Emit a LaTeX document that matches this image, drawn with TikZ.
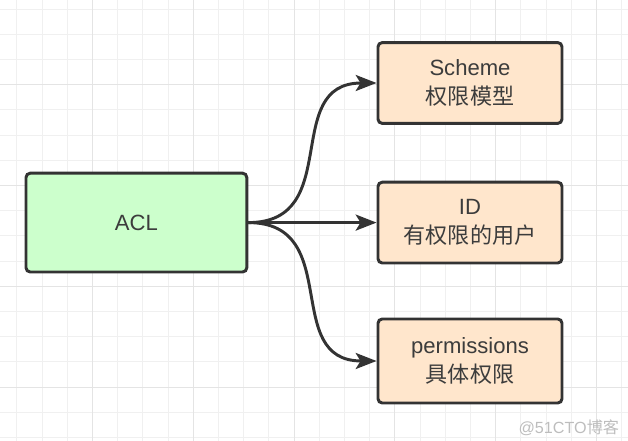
\documentclass[tikz,border=0pt]{standalone}
\usepackage{fontspec}
\setmainfont{Liberation Sans}
\newfontfamily\cjk{Noto Sans CJK SC}
\usetikzlibrary{arrows.meta}
\definecolor{gridminor}{HTML}{F0F0F0}
\definecolor{gridmajor}{HTML}{E4E4E4}
\definecolor{aclfill}{HTML}{CCFFCC}
\definecolor{itemfill}{HTML}{FFE6CC}
\definecolor{edgegray}{HTML}{333333}
\definecolor{textgray}{HTML}{3C3C3C}
\definecolor{wmgray}{HTML}{BDBDBD}

\begin{document}
\begin{tikzpicture}[line width=0.5pt,
  every node/.style={font=\fontsize{15.7}{20.5}\selectfont, text=textgray, align=center},
  box/.style={draw=edgegray, line width=2.1pt, rounded corners=3pt, inner sep=0pt},
  link/.style={draw=edgegray, line width=2.1pt, -{Stealth[length=0.52cm, width=0.4cm, inset=0.12cm]}}]
  \useasboundingbox (0,0) rectangle (15.70,11.025);
  % grid
  \foreach \i in {0,...,24}
    \draw[gridminor, line width=0.7pt] (0.42+0.63*\i,0) -- ++(0,11.025);
  \foreach \j in {0,...,17}
    \draw[gridminor, line width=0.7pt] (0,10.80-0.63*\j) -- ++(15.70,0);
  \foreach \i in {3,7,...,23}
    \draw[gridmajor, line width=0.7pt] (0.42+0.63*\i,0) -- ++(0,11.025);
  \foreach \j in {3,7,...,15}
    \draw[gridmajor, line width=0.7pt] (0,10.80-0.63*\j) -- ++(15.70,0);
  % nodes
  \node[box, fill=aclfill, minimum width=5.52cm, minimum height=2.47cm] (acl) at (3.41,5.46) {ACL};
  \node[box, fill=itemfill, minimum width=4.60cm, minimum height=2.02cm] (scheme) at (11.75,8.95) {Scheme\\{\cjk 权限模型}};
  \node[box, fill=itemfill, minimum width=4.60cm, minimum height=2.02cm] (id) at (11.75,5.46) {ID\\{\cjk 有权限的用户}};
  \node[box, fill=itemfill, minimum width=4.60cm, minimum height=2.10cm] (perm) at (11.75,2.00) {permissions\\{\cjk 具体权限}};
  % connectors
  \draw[link] (acl.east) to[out=0, in=180, looseness=1.3] (scheme.west);
  \draw[link] (acl.east) -- (id.west);
  \draw[link] (acl.east) to[out=0, in=180, looseness=1.3] (perm.west);
  \node[text=wmgray, font=\fontsize{11.5}{13}\selectfont] (wm) at (14.22,0.33) {@51CTO{\cjk 博客}};
\end{tikzpicture}
\end{document}
